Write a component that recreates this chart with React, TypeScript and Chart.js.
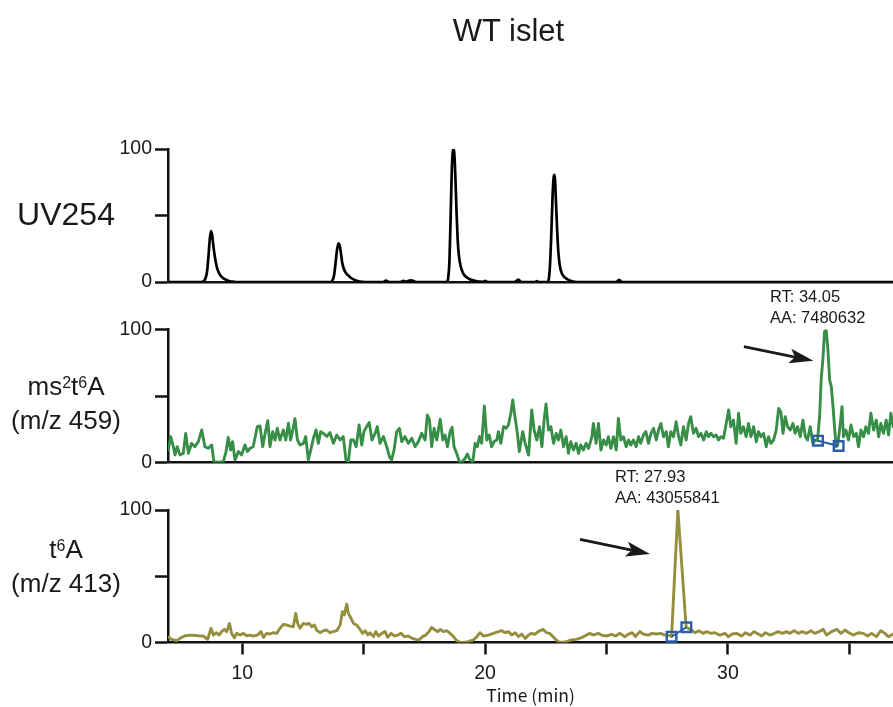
import React, { useEffect, useRef } from 'react';
import { Chart, registerables } from 'chart.js';

Chart.register(...registerables);

const FONT = '"Liberation Sans", Arial, Helvetica, sans-serif';
const INK = '#1a1a1a';

// ---------- axes ----------
const xMin = 6.94;
const xMax = 36.8;
const xTicks = [10, 15, 20, 25, 30, 35];
const xTickLabels = [10, 20, 30];
const yTicks = [0, 50, 100];
const yTickLabels = [0, 100];

// ---------- UV254 trace ----------
const uvTime = [6.94, 8.30, 8.42, 8.49, 8.55, 8.61, 8.66, 8.71, 8.76, 8.81,
  8.87, 8.94, 9.02, 9.10, 9.20, 9.32, 9.45, 9.65, 9.90, 13.64,
  13.72, 13.78, 13.84, 13.90, 13.96, 14.01, 14.06, 14.11, 14.18, 14.27,
  14.37, 14.48, 14.60, 14.75, 14.95, 15.20, 15.80, 15.92, 16.05, 16.52,
  16.63, 16.75, 16.85, 16.94, 17.05, 17.15, 18.42, 18.48, 18.53, 18.58,
  18.63, 18.67, 18.70, 18.73, 18.77, 18.82, 18.87, 18.92, 18.98, 19.05,
  19.15, 19.30, 19.50, 19.75, 19.92, 20.00, 20.10, 21.22, 21.37, 21.50,
  22.05, 22.13, 22.22, 22.58, 22.63, 22.68, 22.73, 22.78, 22.82, 22.85,
  22.88, 22.92, 22.97, 23.02, 23.08, 23.15, 23.25, 23.38, 23.55, 23.80,
  25.40, 25.52, 25.64, 36.80];
const uvValue = [0, 0, 0.8, 3, 8, 20, 32, 38.3, 35, 27,
  19, 12, 7.5, 5, 3, 1.8, 0.8, 0.2, 0, 0,
  1.5, 5, 14, 24, 29.1, 27.5, 22, 15, 10, 6.8,
  4.8, 3, 1.8, 0.8, 0.2, 0, 0, 1, 0, 0,
  0.8, 0.2, 1, 1.3, 0.8, 0, 0, 3, 15, 48,
  85, 98, 100, 97, 82, 55, 32, 20, 13, 8.5,
  5, 2.8, 1.2, 0.3, 0.2, 0.8, 0, 0, 1.8, 0,
  0, 0.6, 0, 0, 3, 15, 38, 65, 78, 80.5,
  77, 60, 38, 22, 12, 7, 4, 2.2, 0.8, 0,
  0, 1.6, 0, 0];

// ---------- ms2t6A (m/z 459) trace ----------
const msTime = [6.95, 7.05, 7.16, 7.23, 7.32, 7.43, 7.57, 7.67, 7.78, 7.91,
  8.05, 8.19, 8.33, 8.46, 8.60, 8.74, 8.83, 9.01, 9.22, 9.33,
  9.42, 9.52, 9.60, 9.70, 9.84, 9.97, 10.11, 10.21, 10.32, 10.45,
  10.52, 10.62, 10.73, 10.84, 10.94, 11.05, 11.14, 11.25, 11.35, 11.44,
  11.55, 11.69, 11.79, 11.90, 11.99, 12.08, 12.17, 12.27, 12.38, 12.52,
  12.61, 12.72, 12.82, 12.93, 13.04, 13.13, 13.23, 13.34, 13.48, 13.61,
  13.75, 13.89, 14.03, 14.16, 14.27, 14.37, 14.47, 14.58, 14.69, 14.81,
  14.92, 15.01, 15.12, 15.23, 15.34, 15.47, 15.56, 15.67, 15.81, 15.95,
  16.06, 16.15, 16.25, 16.36, 16.47, 16.57, 16.70, 16.84, 16.98, 17.12,
  17.25, 17.39, 17.53, 17.62, 17.71, 17.80, 17.90, 18.01, 18.15, 18.26,
  18.35, 18.45, 18.56, 18.64, 18.72, 18.83, 18.94, 19.04, 19.18, 19.27,
  19.38, 19.49, 19.59, 19.68, 19.77, 19.86, 19.97, 20.07, 20.17, 20.27,
  20.37, 20.48, 20.55, 20.65, 20.76, 20.87, 20.96, 21.06, 21.14, 21.24,
  21.33, 21.41,
  21.44, 21.55, 21.65, 21.79, 21.92, 22.02, 22.13, 22.24, 22.34, 22.43,
  22.51, 22.61, 22.71, 22.82, 22.93, 23.02, 23.12, 23.23, 23.34, 23.43,
  23.53, 23.64, 23.75, 23.85, 23.94, 24.05, 24.16, 24.26, 24.40, 24.46,
  24.57, 24.67, 24.77, 24.88, 24.99, 25.08, 25.18, 25.29, 25.40, 25.49,
  25.59, 25.70, 25.81, 25.91, 26.00, 26.11, 26.22, 26.32, 26.41, 26.52,
  26.62, 26.73, 26.83, 26.94, 27.05, 27.14, 27.24, 27.35, 27.46, 27.55,
  27.65, 27.76, 27.87, 27.97, 28.06, 28.17, 28.28, 28.38, 28.47, 28.58,
  28.69, 28.79, 28.89, 29.00, 29.11, 29.20, 29.30, 29.41, 29.52, 29.61,
  29.71, 29.82, 29.93, 30.03, 30.12, 30.23, 30.34, 30.44, 30.53, 30.64,
  30.75, 30.85, 30.95, 31.06, 31.17, 31.26, 31.36, 31.47, 31.58, 31.67,
  31.77, 31.88, 31.99, 32.09, 32.18, 32.27, 32.36, 32.46, 32.57, 32.68,
  32.77, 32.87, 32.98, 33.09, 33.19, 33.28, 33.39, 33.50, 33.60, 33.69,
  33.78, 33.84, 33.91, 33.98, 34.05, 34.12, 34.19, 34.26, 34.33, 34.39,
  34.46, 34.53, 34.63, 34.70, 34.76, 34.86, 34.97, 35.07, 35.18, 35.29,
  35.38, 35.48, 35.59, 35.68, 35.79, 35.89, 36.00, 36.11, 36.21, 36.30,
  36.41, 36.52, 36.62, 36.71, 36.81];
const msValue = [9.4, 19.5, 11.9, 5.7, 11.9, 5.7, 6.9, 21.9, 6.9, 14.4,
  11.9, 15.7, 24.5, 11.9, 10.7, 13.2, 0.7, 0.2, 0.7, 8.2,
  18.9, 9.4, 15.7, 1.9, 8.2, 5.7, 13.2, 8.2, 10.7, 11.9,
  18.2, 27.0, 27.5, 11.9, 21.9, 31.5, 11.9, 23.2, 16.9, 25.7,
  16.9, 24.5, 16.9, 29.5, 16.9, 24.5, 33.0, 16.9, 13.2, 14.4,
  19.5, 1.9, 9.4, 18.2, 24.5, 14.4, 23.2, 21.9, 19.5, 22.5,
  14.4, 20.7, 16.9, 19.5, 1.9, 0.7, 16.9, 16.9, 11.9, 28.2,
  13.2, 23.2, 27.0, 30.0, 16.9, 21.9, 27.0, 14.4, 19.5, 11.9,
  4.4, 1.9, 9.4, 23.2, 25.7, 15.7, 19.5, 14.4, 18.2, 11.9,
  15.7, 21.9, 16.9, 35.7, 32.0, 11.9, 25.7, 16.9, 32.5, 16.9,
  20.7, 11.9, 23.2, 26.5, 11.9, 6.9, 0.7, 0, 3.2, 6.4,
  1.9, 0.2, 14.4, 11.9, 19.5, 14.4, 42.5, 16.9, 20.7, 11.9,
  15.7, 16.9, 23.2, 14.4, 27.0, 25.7, 28.2, 37.0, 47.0, 33.2,
  21.9, 8.2,
  11.9, 23.2, 14.4, 5.6, 39.5, 24.4, 16.9, 26.9, 11.9, 31.9,
  44.0, 24.4, 26.9, 14.4, 21.9, 16.9, 24.4, 11.9, 19.4, 6.9,
  15.6, 9.4, 14.4, 6.9, 13.2, 9.4, 14.4, 10.6, 19.4, 29.4,
  14.4, 29.4, 9.4, 16.9, 13.2, 19.4, 10.6, 19.4, 9.4, 33.2,
  16.9, 19.4, 11.9, 16.9, 13.2, 16.9, 11.9, 19.4, 14.4, 20.7,
  23.2, 14.4, 21.9, 25.7, 16.9, 24.4, 29.4, 19.4, 23.2, 11.9,
  23.2, 19.4, 30.7, 19.4, 13.2, 26.9, 16.9, 29.4, 34.5, 21.9,
  25.7, 19.4, 21.9, 16.9, 23.2, 19.4, 21.9, 19.4, 20.7, 16.9,
  19.4, 18.2, 29.4, 39.5, 26.9, 31.9, 14.4, 37.0, 21.9, 26.9,
  19.4, 29.4, 19.4, 26.9, 15.6, 23.2, 19.4, 21.9, 11.9, 19.4,
  14.4, 16.9, 24.4, 40.7, 38.2, 21.9, 34.5, 26.9, 24.4, 29.4,
  21.9, 26.9, 19.4, 31.9, 19.4, 16.9, 26.9, 14.4, 17.0, 16.4,
  35.0, 62.0, 77.1, 98.4, 99.6, 84.6, 62.0, 57.0, 42.0, 26.9,
  11.9, 14.0, 29.4, 42.0, 19.4, 24.4, 16.9, 28.2, 19.4, 21.9,
  11.9, 24.4, 19.4, 26.9, 21.9, 37.0, 24.4, 31.9, 19.4, 29.4,
  21.9, 31.9, 20.7, 37.0, 26.9];
const msBaseTime = [33.71, 34.56];
const msBaseValue = [16.4, 12.4];

// ---------- t6A (m/z 413) trace ----------
const t6Time = [6.95, 7.09, 7.30, 7.43, 7.64, 7.91, 8.19, 8.39, 8.57, 8.71,
  8.81, 8.94, 9.04, 9.15, 9.26, 9.36, 9.47, 9.56, 9.67, 9.77,
  9.91, 10.04, 10.18, 10.32, 10.45, 10.63, 10.77, 10.87, 11.00, 11.14,
  11.28, 11.42, 11.55, 11.69, 11.83, 11.97, 12.10, 12.20, 12.28, 12.38,
  12.51, 12.65, 12.75, 12.86, 12.97, 13.06, 13.20, 13.34, 13.48, 13.61,
  13.75, 13.89, 14.03, 14.12, 14.20, 14.30, 14.37, 14.48, 14.58, 14.71,
  14.85, 14.95, 15.06, 15.17, 15.26, 15.40, 15.50, 15.61, 15.74, 15.88,
  15.99, 16.13, 16.26, 16.40, 16.54, 16.68, 16.84, 17.01, 17.14, 17.28,
  17.42, 17.56, 17.69, 17.80, 17.94, 18.05, 18.16, 18.28, 18.42, 18.56,
  18.70, 18.83, 18.97, 19.11, 19.31, 19.52, 19.66, 19.79, 19.93, 20.14,
  20.34, 20.55, 20.69, 20.82, 20.96, 21.10, 21.24, 21.37, 21.51, 21.65,
  21.79,
  21.91, 22.05, 22.18, 22.39, 22.53, 22.66, 22.80, 23.01, 23.15, 23.35,
  23.56, 23.76, 23.97, 24.18, 24.31, 24.45, 24.66, 24.79, 25.00, 25.21,
  25.37, 25.55, 25.76, 25.89, 26.06, 26.19, 26.37, 26.51, 26.72, 26.88,
  27.06, 27.24, 27.40, 27.54,
  27.68, 27.94, 28.28,
  28.50, 28.64, 28.80, 28.98, 29.12, 29.30, 29.46, 29.67, 29.88, 30.01,
  30.18, 30.36, 30.56, 30.73, 30.91, 31.08, 31.25, 31.39, 31.55, 31.73,
  31.91, 32.07, 32.24, 32.42, 32.55, 32.73, 32.90, 33.06, 33.24, 33.42,
  33.58, 33.75, 33.93, 34.06, 34.27, 34.48, 34.66, 34.82, 34.98, 35.16,
  35.37, 35.58, 35.75, 35.92, 36.12, 36.30, 36.47, 36.61, 36.81];
const t6Value = [3.9, 2.4, 1.4, 3.1, 5.1, 5.6, 5.1, 4.9, 2.4, 10.7,
  5.6, 7.4, 5.6, 8.2, 9.9, 8.2, 14.4, 6.9, 3.6, 6.9,
  5.6, 6.9, 5.1, 5.6, 4.9, 5.6, 8.2, 3.9, 6.9, 6.4,
  7.4, 6.9, 10.7, 13.7, 13.2, 12.4, 11.9, 22.0, 14.4, 10.7,
  14.4, 13.7, 14.4, 11.9, 13.2, 9.4, 7.4, 8.9, 9.4, 7.4,
  8.2, 8.9, 13.2, 23.2, 20.7, 29.0, 22.0, 18.2, 14.4, 13.2,
  9.9, 6.9, 8.9, 5.6, 7.4, 4.4, 8.2, 4.9, 6.9, 8.2,
  3.9, 6.9, 4.9, 5.6, 6.9, 4.4, 4.9, 3.1, 2.4, 1.9,
  4.4, 5.6, 8.2, 11.4, 9.4, 8.2, 9.9, 8.2, 8.9, 6.9,
  4.4, 1.4, 0.1, 0, 0.6, 1.9, 4.4, 7.4, 4.9, 5.6,
  6.9, 8.2, 8.9, 7.4, 8.2, 5.6, 7.4, 4.4, 6.4, 3.1,
  5.6,
  6.9, 6.1, 8.2, 9.9, 7.4, 6.9, 4.4, 0.6, 0, 0.6,
  1.9, 2.4, 3.6, 5.6, 6.9, 5.6, 6.9, 5.6, 4.9, 6.1,
  4.9, 6.9, 4.4, 6.1, 7.4, 4.4, 8.2, 6.4, 5.6, 6.9,
  6.4, 6.9, 5.6, 5.6,
  4.5, 100, 11.5,
  9.4, 7.4, 8.9, 6.9, 8.2, 6.9, 7.4, 5.6, 6.9, 4.4,
  6.4, 6.9, 4.9, 7.4, 5.6, 8.2, 6.4, 4.9, 7.4, 5.6,
  6.9, 8.2, 6.9, 8.2, 6.9, 8.9, 6.9, 8.2, 6.9, 8.9,
  6.9, 8.2, 9.9, 5.6, 8.2, 9.9, 6.9, 9.4, 7.4, 5.6,
  7.4, 6.9, 4.9, 6.9, 4.4, 8.9, 6.9, 4.4, 6.4];
const t6BaseTime = [27.68, 28.29];
const t6BaseValue = [4.4, 11.5];

// ---------- peak annotations ----------
const msNote = { lines: ['RT: 34.05', 'AA: 7480632'], x: 31.73, y: 124.4, arrowFrom: [30.66, 87.1], arrowTo: [33.52, 76.5] };
const t6Note = { lines: ['RT: 27.93', 'AA: 43055841'], x: 25.35, y: 124.9, arrowFrom: [23.91, 77.9], arrowTo: [26.79, 66.8] };

const W = 893;
const H = 707;
const GREEN = '#378e47';
const OLIVE = '#958e3e';
const BLUE = '#2b5caa';

const pts = (t: number[], v: number[]) => t.map((x, i) => ({ x, y: v[i] }));

function notePlugin(note: any) {
  return {
    id: 'peakNote',
    afterDraw(chart: any) {
      const { ctx } = chart;
      const xs = chart.scales.x;
      const ys = chart.scales.y;
      ctx.save();
      ctx.font = `16.5px ${FONT}`;
      ctx.fillStyle = INK;
      ctx.textAlign = 'left';
      ctx.textBaseline = 'middle';
      const tx = xs.getPixelForValue(note.x);
      const ty = ys.getPixelForValue(note.y);
      note.lines.forEach((s: string, i: number) => ctx.fillText(s, tx, ty + i * 21.8));
      const x0 = xs.getPixelForValue(note.arrowFrom[0]);
      const y0 = ys.getPixelForValue(note.arrowFrom[1]);
      const x1 = xs.getPixelForValue(note.arrowTo[0]);
      const y1 = ys.getPixelForValue(note.arrowTo[1]);
      const a = Math.atan2(y1 - y0, x1 - x0);
      const head = 24;
      const half = 7.5;
      const ca = Math.cos(a);
      const sa = Math.sin(a);
      const bx = x1 - ca * head;
      const by = y1 - sa * head;
      const nx = x1 - ca * head * 0.78;
      const ny = y1 - sa * head * 0.78;
      ctx.strokeStyle = INK;
      ctx.lineWidth = 2.8;
      ctx.beginPath();
      ctx.moveTo(x0, y0);
      ctx.lineTo(nx, ny);
      ctx.stroke();
      ctx.beginPath();
      ctx.moveTo(x1, y1);
      ctx.lineTo(bx + sa * half, by - ca * half);
      ctx.lineTo(nx, ny);
      ctx.lineTo(bx - sa * half, by + ca * half);
      ctx.closePath();
      ctx.fill();
      ctx.restore();
    },
  };
}

function yScale() {
  return {
    type: 'linear',
    position: 'left',
    min: 0,
    max: 100,
    afterFit: (s: any) => { s.width = 168; },
    afterBuildTicks: (s: any) => { s.ticks = yTicks.map((v) => ({ value: v })); },
    ticks: {
      autoSkip: false,
      padding: 3,
      color: INK,
      font: { family: FONT, size: 19.5 },
      callback: (v: any) => (yTickLabels.includes(Number(v)) ? String(v) : ''),
    },
    grid: { drawOnChartArea: false, drawTicks: true, tickLength: 13, tickWidth: 2.5, tickColor: '#111', color: '#111' },
    border: { display: true, color: '#111', width: 2.5 },
  };
}

function xScaleBare() {
  return {
    type: 'linear',
    min: xMin,
    max: xMax,
    afterFit: (s: any) => { s.height = 0; },
    ticks: { display: false },
    grid: { display: false },
    border: { display: true, color: '#111', width: 2.5 },
  };
}

function xScaleFull() {
  return {
    type: 'linear',
    min: xMin,
    max: xMax,
    afterFit: (s: any) => { s.height = 64.5; },
    afterBuildTicks: (s: any) => { s.ticks = xTicks.map((v) => ({ value: v })); },
    ticks: {
      autoSkip: false,
      maxRotation: 0,
      padding: 7,
      color: INK,
      font: { family: FONT, size: 19.5 },
      callback: (v: any) => (xTickLabels.includes(Number(v)) ? String(v) : ''),
    },
    grid: { drawOnChartArea: false, drawTicks: true, tickLength: 12, tickWidth: 2.5, tickColor: '#111', color: '#111' },
    border: { display: true, color: '#111', width: 2.5 },
    title: {
      display: true,
      text: 'Time (min)',
      color: INK,
      font: { family: '"Noto Sans CJK JP", "Noto Sans", sans-serif', size: 17.5 },
      padding: { top: 0, bottom: 1.5 },
    },
  };
}

function makeConfig(datasets: any[], padTop: number, padBottom: number, x: any, plugins: any[]) {
  return {
    type: 'line',
    data: { datasets },
    options: {
      responsive: false,
      animation: false,
      devicePixelRatio: 1,
      layout: { autoPadding: false, padding: { left: 0, right: 0, top: padTop, bottom: padBottom } },
      plugins: { legend: { display: false }, tooltip: { enabled: false }, title: { display: false } },
      scales: { x, y: yScale() },
      elements: { point: { radius: 0 } },
    },
    plugins,
  } as any;
}

const traceStyle = (color: string, width: number) => ({
  borderColor: color,
  borderWidth: width,
  pointRadius: 0,
  fill: false,
  tension: 0,
  borderJoinStyle: 'round',
  borderCapStyle: 'round',
});

const baseStyle = {
  borderColor: BLUE,
  borderWidth: 2,
  pointStyle: 'rect',
  pointRadius: 6.8,
  pointBorderColor: BLUE,
  pointBorderWidth: 2.4,
  pointBackgroundColor: 'rgba(0,0,0,0)',
  showLine: true,
  fill: false,
  clip: false,
};

export default function App() {
  const c1 = useRef<HTMLCanvasElement>(null);
  const c2 = useRef<HTMLCanvasElement>(null);
  const c3 = useRef<HTMLCanvasElement>(null);

  useEffect(() => {
    const uv = new Chart(c1.current as HTMLCanvasElement, makeConfig([
      { ...traceStyle('#000', 2.7), data: pts(uvTime, uvValue), cubicInterpolationMode: 'monotone' },
    ], 149, H - 282, xScaleBare(), []));
    const ms = new Chart(c2.current as HTMLCanvasElement, makeConfig([
      { ...baseStyle, data: pts(msBaseTime, msBaseValue) },
      { ...traceStyle(GREEN, 2.9), data: pts(msTime, msValue) },
    ], 329.5, H - 462.5, xScaleBare(), [notePlugin(msNote)]));
    const t6 = new Chart(c3.current as HTMLCanvasElement, makeConfig([
      { ...baseStyle, data: pts(t6BaseTime, t6BaseValue) },
      { ...traceStyle(OLIVE, 2.9), data: pts(t6Time, t6Value) },
    ], 510, 0, xScaleFull(), [notePlugin(t6Note)]));
    return () => { uv.destroy(); ms.destroy(); t6.destroy(); };
  }, []);

  const canvasStyle: React.CSSProperties = { position: 'absolute', left: 0, top: 0, width: W, height: H };
  const sup = (s: string) => (
    <span style={{ fontSize: 16, position: 'relative', top: -7 }}>{s}</span>
  );
  const labelBox = (top: number, size: number, lh: number): React.CSSProperties => ({
    position: 'absolute', left: 0, width: 132, top, textAlign: 'center',
    fontSize: size, lineHeight: `${lh}px`, whiteSpace: 'nowrap',
  });

  return (
    <div style={{ position: 'absolute', left: 0, top: 0, width: W, height: H, background: '#fff', fontFamily: FONT, color: INK, overflow: 'hidden' }}>
      <canvas ref={c1} width={W} height={H} style={canvasStyle} />
      <canvas ref={c2} width={W} height={H} style={canvasStyle} />
      <canvas ref={c3} width={W} height={H} style={canvasStyle} />
      <div style={{ position: 'absolute', left: 408.5, width: 200, top: 15, textAlign: 'center', fontSize: 31, lineHeight: '31px' }}>WT islet</div>
      <div style={labelBox(197.7, 32, 32)}>UV254</div>
      <div style={labelBox(371, 26, 30)}>
        <div>ms{sup('2')}t{sup('6')}A</div>
        <div>(m/z 459)</div>
      </div>
      <div style={labelBox(534, 26, 30)}>
        <div>t{sup('6')}A</div>
        <div>(m/z 413)</div>
      </div>
    </div>
  );
}
